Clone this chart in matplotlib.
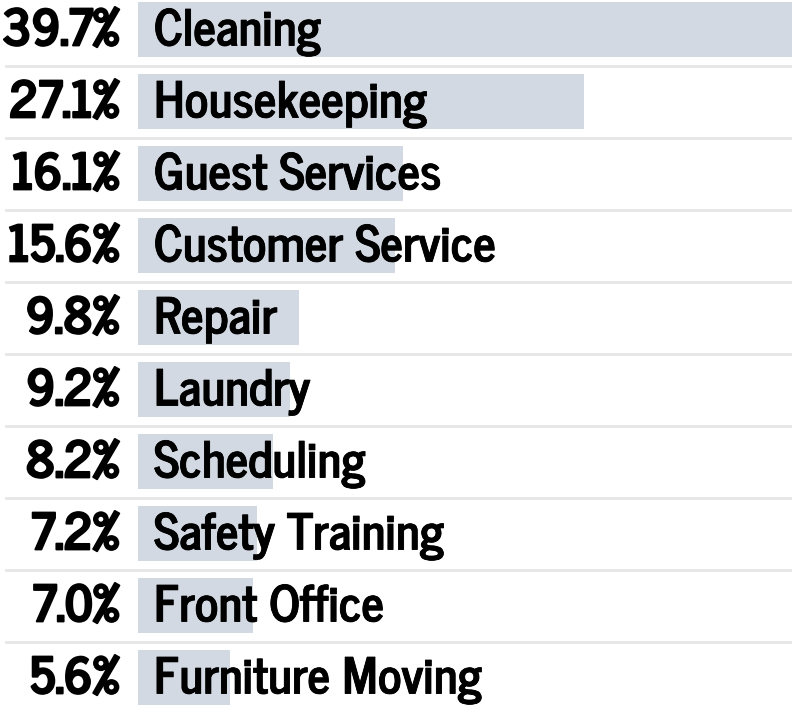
import matplotlib
matplotlib.use("Agg")
import matplotlib.pyplot as plt
import matplotlib.patheffects as pe
from matplotlib.transforms import offset_copy

categories = ["Cleaning", "Housekeeping", "Guest Services", "Customer Service", "Repair",
              "Laundry", "Scheduling", "Safety Training", "Front Office", "Furniture Moving"]
values = [39.7, 27.1, 16.1, 15.6, 9.8, 9.2, 8.2, 7.2, 7.0, 5.6]
pct_labels = ["39.7%", "27.1%", "16.1%", "15.6%", "9.8%", "9.2%", "8.2%", "7.2%", "7.0%", "5.6%"]

W, H, DPI = 792, 714, 100
fig = plt.figure(figsize=(W / DPI, H / DPI), dpi=DPI)
ax = fig.add_axes([0, 0, 1, 1])

px_per_unit = (W - 138) / max(values)
pitch = 72.0
top_off = 29.5 / pitch
ax.set_xlim(-138 / px_per_unit, max(values))
ax.set_ylim(-top_off + H / pitch, -top_off)
ax.axis("off")

bar_color = "#d3d9e2"
sep_color = "#e6e6e6"
font = ["News Cycle", "DejaVu Sans"]

ys = list(range(len(categories)))
ax.barh(ys, values, height=55 / pitch, left=0, color=bar_color, edgecolor="none", zorder=1)

for i in range(len(categories) - 1):
    ax.axhline(i + 0.5, xmin=6 / W, xmax=1, color=sep_color, linewidth=2.0, zorder=0)

pt = 72.0 / DPI
name_fx = [pe.withStroke(linewidth=0.6, foreground="#000000")]
pct_fx = [pe.withStroke(linewidth=1.3, foreground="#000000")]
for y, cat, lab in zip(ys, categories, pct_labels):
    tr_name = offset_copy(ax.transData, fig=fig, x=16 * pt, y=-16 * pt, units="points")
    ax.text(0, y, cat, transform=tr_name, ha="left", va="baseline",
            fontsize=35.5, fontweight="bold", family=font, color="#000000", zorder=3,
            path_effects=name_fx)
    tr_pct = offset_copy(ax.transData, fig=fig, x=-19 * pt, y=-16 * pt, units="points")
    ax.text(0, y, lab, transform=tr_pct, ha="right", va="baseline",
            fontsize=36, fontweight="bold", family=font, color="#000000", zorder=3,
            path_effects=pct_fx)

fig.savefig("out.png", dpi=DPI)
